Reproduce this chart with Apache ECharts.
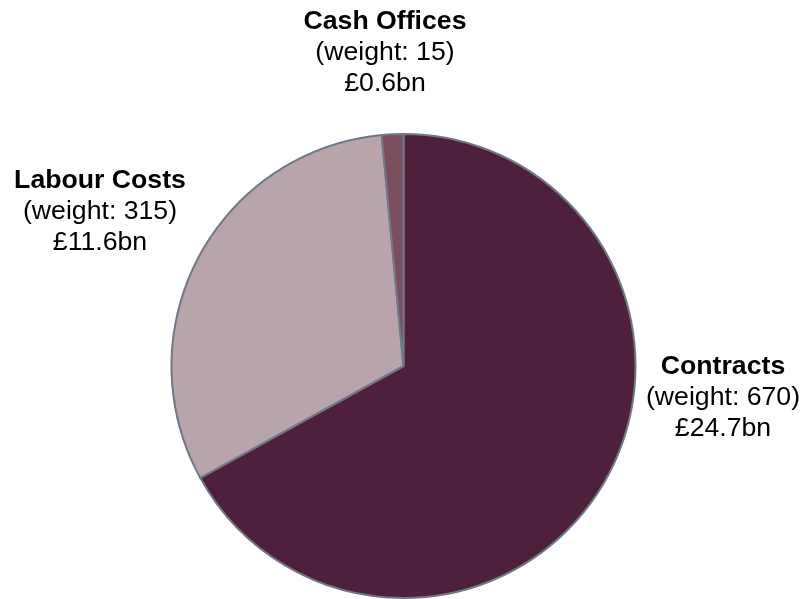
<!DOCTYPE html>
<html>
<head>
<meta charset="utf-8">
<title>Spending by weight</title>
<script src="https://cdn.jsdelivr.net/npm/echarts@6/dist/echarts.min.js"></script>
<style>
  html, body { margin: 0; padding: 0; background: #ffffff; }
  #chart { width: 802px; height: 599px; }
</style>
</head>
<body>
<div id="chart"></div>
<script>
// Spending components, their weights and cash values (£bn)
const categories = ['Contracts', 'Labour Costs', 'Cash Offices'];
const weights = [670, 315, 15];
const valuesBn = ['24.7', '11.6', '0.6'];

// Presentation settings
const sliceColors = ['#4f203b', '#b8a4aa', '#7b4e5e'];
const pieCenter = [403.5, 366];
const pieRadius = 232;
// Label block centres, as offsets from the pie centre
const labelOffsets = [[319.5, 32], [-303.5, -154], [-18.5, -313]];

const chart = echarts.init(document.getElementById('chart'), null, { renderer: 'canvas' });

const fontFamily = "'Liberation Sans', Arial, sans-serif";

chart.setOption({
  animation: false,
  series: [{
    type: 'pie',
    center: pieCenter,
    radius: pieRadius,
    startAngle: 90,
    clockwise: true,
    silent: true,
    itemStyle: { borderColor: '#6e7886', borderWidth: 2 },
    label: {
      show: true,
      position: 'inside',
      overflow: 'none',
      fontFamily: fontFamily,
      formatter: function (p) {
        return '{t|' + p.name + '}\n{n|(weight: ' + p.value + ')}\n{n|£' + valuesBn[p.dataIndex] + 'bn}';
      },
      rich: {
        t: { fontFamily: fontFamily, fontSize: 26.67, fontWeight: 'bold', color: '#000000', lineHeight: 31, align: 'center' },
        n: { fontFamily: fontFamily, fontSize: 26.67, fontWeight: 'normal', color: '#000000', lineHeight: 31, align: 'center' }
      }
    },
    labelLine: { show: false },
    labelLayout: function (params) {
      const off = labelOffsets[params.dataIndex];
      return {
        x: pieCenter[0] + off[0],
        y: pieCenter[1] + off[1],
        align: 'center',
        verticalAlign: 'middle'
      };
    },
    data: categories.map(function (name, i) {
      return { name: name, value: weights[i], itemStyle: { color: sliceColors[i] } };
    })
  }]
});
</script>
</body>
</html>
